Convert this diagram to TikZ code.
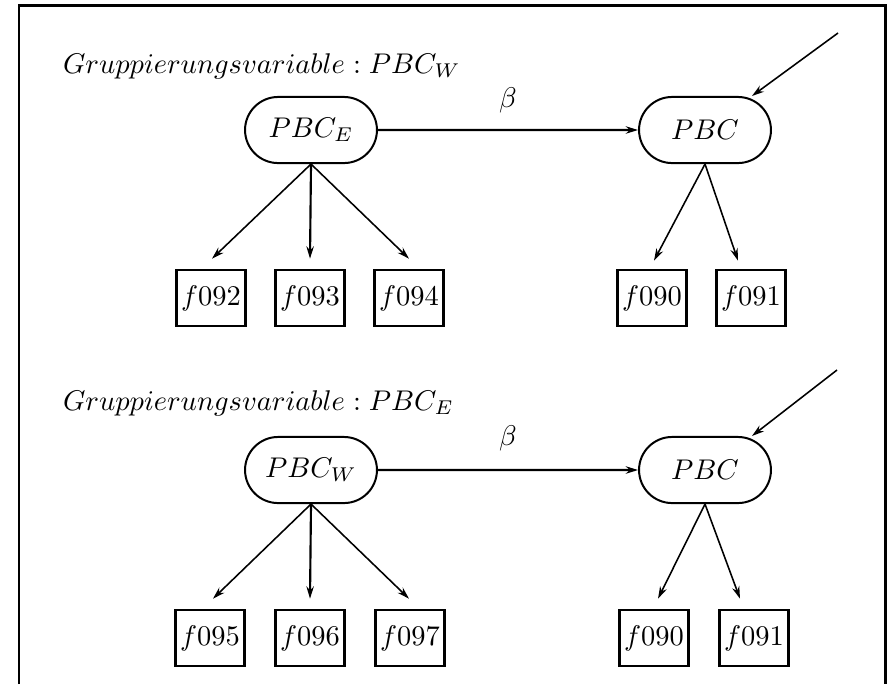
\documentclass[tikz,border=0pt]{standalone}
\usetikzlibrary{shapes.misc,arrows.meta}
\begin{document}
\begin{tikzpicture}[x=0.351pt,y=-0.351pt,
  oval/.style={rounded rectangle, draw, line width=0.7pt, minimum width=46.3pt, minimum height=23.2pt, inner sep=0pt},
  fbox/.style={rectangle, draw, line width=0.9pt, minimum width=24.2pt, minimum height=19.7pt, inner sep=0pt},
  arr/.style={-{Stealth[length=4.3pt,width=2.6pt]}, line width=0.55pt},
  thickarr/.style={arr, line width=0.75pt},
  frameline/.style={line width=1.05pt}]
\useasboundingbox (0,0) rectangle (890,684);
\draw[frameline] (19,684) -- (19,5) -- (885,5) -- (885,684);

% upper panel
\node[anchor=base west] (t1) at (53,73) {$Gruppierungsvariable : PBC_W$};
\node[oval] (e1) at (311,130) {$PBC_E$};
\node[oval] (p1) at (705,130) {$PBC$};
\node (b1) at (508,100) {$\beta$};
\draw[thickarr] (e1) -- (p1);
\coordinate (in1) at (838,33);
\draw[arr] (in1) -- ([shift={(47,0)}]p1.north);
\node[fbox] (f092) at (211,298) {$f092$};
\node[fbox] (f093) at (310,298) {$f093$};
\node[fbox] (f094) at (409,298) {$f094$};
\node[fbox] (f090a) at (652,298) {$f090$};
\node[fbox] (f091a) at (751,298) {$f091$};
\draw[arr] (e1.south) -- ([shift={(1,-10)}]f092.north);
\draw[thickarr] (e1.south) -- ([shift={(0,-10)}]f093.north);
\draw[arr] (e1.south) -- ([shift={(0,-10)}]f094.north);
\draw[arr] (p1.south) -- ([shift={(2,-8)}]f090a.north);
\draw[arr] (p1.south) -- ([shift={(-13,-8)}]f091a.north);

% lower panel
\node[anchor=base west] (t2) at (53,410) {$Gruppierungsvariable : PBC_E$};
\node[oval] (e2) at (311,470) {$PBC_W$};
\node[oval] (p2) at (705,470) {$PBC$};
\node (b2) at (508,438) {$\beta$};
\draw[thickarr] (e2) -- (p2);
\coordinate (in2) at (837,370);
\draw[arr] (in2) -- ([shift={(47,0)}]p2.north);
\node[fbox] (f095) at (210,638) {$f095$};
\node[fbox] (f096) at (310,638) {$f096$};
\node[fbox] (f097) at (410,638) {$f097$};
\node[fbox] (f090b) at (654,638) {$f090$};
\node[fbox] (f091b) at (754,638) {$f091$};
\draw[arr] (e2.south) -- ([shift={(3,-10)}]f095.north);
\draw[thickarr] (e2.south) -- ([shift={(0,-10)}]f096.north);
\draw[arr] (e2.south) -- ([shift={(-1,-10)}]f097.north);
\draw[arr] (p2.south) -- ([shift={(4,-10)}]f090b.north);
\draw[arr] (p2.south) -- ([shift={(-14,-10)}]f091b.north);
\end{tikzpicture}
\end{document}
